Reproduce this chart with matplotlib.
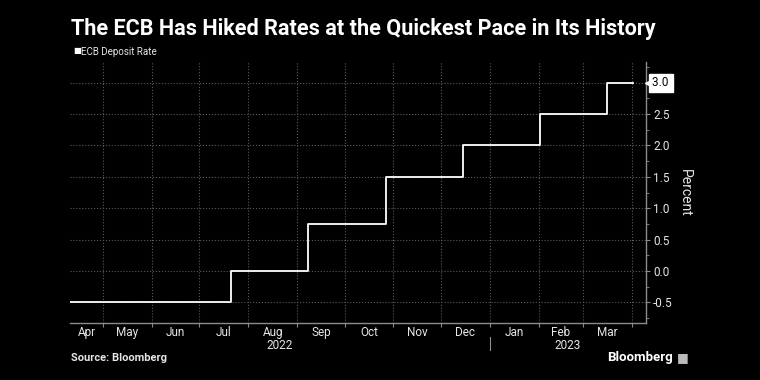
import numpy as np
import pandas as pd
import matplotlib
matplotlib.use('Agg')
import matplotlib.pyplot as plt
import matplotlib.dates as mdates

# ECB deposit rate, decision dates and new levels
change_dates = ['2022-04-10', '2022-07-21', '2022-09-08', '2022-10-27',
                '2022-12-15', '2023-02-02', '2023-03-16', '2023-04-02']
rates = [-0.5, 0.0, 0.75, 1.5, 2.0, 2.5, 3.0, 3.0]

month_labels = ['Apr', 'May', 'Jun', 'Jul', 'Aug', 'Sep', 'Oct', 'Nov',
                'Dec', 'Jan', 'Feb', 'Mar']
year_labels = ['2022', '2023']
y_ticks = [-0.5, 0.0, 0.5, 1.0, 1.5, 2.0, 2.5, 3.0]

plt.rcParams['font.family'] = ['Roboto', 'DejaVu Sans']

bg = 'black'
grid_c = '#5a5a5a'
axis_c = '#8c8c8c'
text_c = '#e6e6e6'

dates = pd.to_datetime(change_dates)
x_start = pd.Timestamp('2022-04-10')
x_end = pd.Timestamp('2023-04-10')

fig = plt.figure(figsize=(7.6, 3.8), dpi=100, facecolor=bg)
ax = fig.add_axes([0.092, 0.149, 0.758, 0.688], facecolor=bg)

ax.step(dates, rates, where='post', color='white', lw=1.3, zorder=3)

ax.set_xlim(x_start, x_end)
ax.set_ylim(-0.835, 3.33)

# month boundaries as gridlines / major ticks
bounds = pd.date_range('2022-05-01', '2023-04-01', freq='MS')
ax.set_xticks(bounds)
ax.set_xticklabels([])
ax.tick_params(axis='x', which='major', length=3, color=axis_c, direction='out')
ax.grid(True, axis='x', which='major', color=grid_c, ls=':', lw=0.8)

# month labels centred in each visible month
edges = [x_start] + list(bounds) + [x_end]
mids = []
for i in range(len(month_labels)):
    a = mdates.date2num(edges[i])
    b = mdates.date2num(min(edges[i + 1], pd.Timestamp('2023-04-01')))
    mids.append((a + b) / 2)
ax.set_xticks(mids, minor=True)
ax.set_xticklabels(month_labels, minor=True)
ax.tick_params(axis='x', which='minor', length=0, pad=2, labelsize=8.5, labelcolor=text_c)

# year labels
jan1 = mdates.date2num(pd.Timestamp('2023-01-01'))
x0 = mdates.date2num(x_start)
x1 = mdates.date2num(x_end)
trans = ax.get_xaxis_transform()
ax.text((x0 + jan1) / 2, -0.058, year_labels[0], transform=trans, ha='center',
        va='top', color=text_c, fontsize=8.5)
ax.text((jan1 + x1) / 2, -0.058, year_labels[1], transform=trans, ha='center',
        va='top', color=text_c, fontsize=8.5)
ax.plot([jan1, jan1], [-0.053, -0.102], transform=trans, color=axis_c, lw=0.8,
        clip_on=False)

# y axis on the right (last tick sits under the value tag)
ax.yaxis.tick_right()
ax.yaxis.set_label_position('right')
ax.set_yticks(y_ticks)
ax.set_yticklabels(['%.1f' % v for v in y_ticks[:-1]] + [''])
ax.set_yticks(np.arange(-0.75, 3.3, 0.25), minor=True)
ax.tick_params(axis='y', which='major', length=3, color=axis_c, labelsize=8.5,
               labelcolor=text_c, pad=2)
ax.tick_params(axis='y', which='minor', length=2, color=axis_c)
ax.grid(True, axis='y', which='major', color=grid_c, ls=':', lw=0.8)
ax.set_ylabel('Percent', rotation=270, color=text_c, fontsize=10, labelpad=14)

for s in ['left', 'top']:
    ax.spines[s].set_visible(False)
for s in ['right', 'bottom']:
    ax.spines[s].set_color(axis_c)
    ax.spines[s].set_linewidth(1)

# last value tag
ax.text(1.01, rates[-1], '%.1f ' % rates[-1], transform=ax.get_yaxis_transform(),
        ha='left', va='center', color='black', fontsize=8.5, zorder=5,
        bbox=dict(boxstyle='square,pad=0.2', fc='white', ec='white'))
ax.plot([1.004], [rates[-1]], marker='<', ms=5, color='white',
        transform=ax.get_yaxis_transform(), clip_on=False, zorder=5)

# title, legend, footer
fig.text(0.094, 0.925, 'The ECB Has Hiked Rates at the Quickest Pace in Its History',
         color='white', fontsize=15.6, fontweight='bold', va='center', ha='left')
fig.text(0.096, 0.865, '\u25a0', color='white', fontsize=6, va='center', ha='left')
fig.text(0.106, 0.863, 'ECB Deposit Rate', color=text_c, fontsize=7, va='center', ha='left')
fig.text(0.094, 0.058, 'Source: Bloomberg', color=text_c, fontsize=8,
         fontweight='bold', va='center', ha='left')
fig.text(0.886, 0.058, 'Bloomberg', color='white', fontsize=9.5, fontweight='bold',
         va='center', ha='right')
fig.text(0.899, 0.058, '\u25a0', color='#bbbbbb', fontsize=9, va='center', ha='center')

fig.savefig('out.png', dpi=100, facecolor=bg)
